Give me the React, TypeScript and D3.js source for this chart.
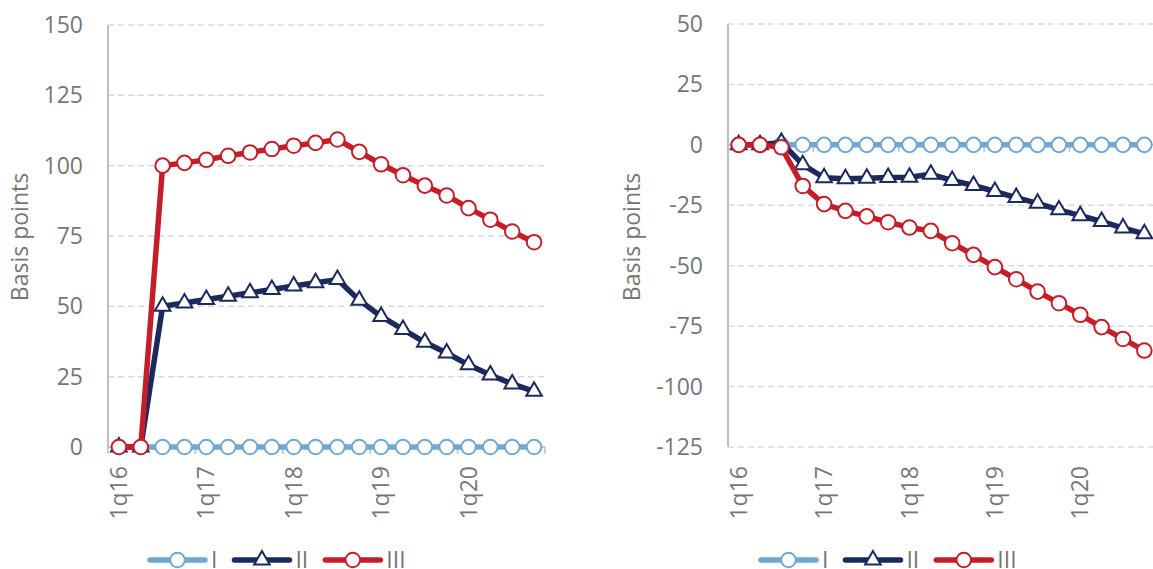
import React, { useRef, useEffect } from 'react';
import * as d3 from 'd3';

const quarters = [
  '1q16', '2q16', '3q16', '4q16',
  '1q17', '2q17', '3q17', '4q17',
  '1q18', '2q18', '3q18', '4q18',
  '1q19', '2q19', '3q19', '4q19',
  '1q20', '2q20', '3q20', '4q20',
];
const shownLabels = ['1q16', '1q17', '1q18', '1q19', '1q20'];

const seriesNames = ['I', 'II', 'III'];
const seriesColors = ['#6fa8d0', '#1b2a5c', '#c41e2a'];

// left panel
const leftI = [0, 0, 0, 0, 0, 0, 0, 0, 0, 0, 0, 0, 0, 0, 0, 0, 0, 0, 0, 0];
const leftII = [0, 0, 50, 51.2, 52.4, 53.6, 54.8, 56, 57.2, 58.4, 59.5, 52.2, 46.4, 41.8, 37.2, 33.4, 29.2, 25.6, 22.4, 19.8];
const leftIII = [0, 0, 100, 101, 102.1, 103.5, 104.7, 105.9, 107.1, 108.1, 109.3, 104.9, 100.5, 96.6, 92.9, 89.4, 84.9, 80.8, 76.6, 72.8];
const leftTicks = [0, 25, 50, 75, 100, 125, 150];

// right panel
const rightI = [0, 0, 0, 0, 0, 0, 0, 0, 0, 0, 0, 0, 0, 0, 0, 0, 0, 0, 0, 0];
const rightII = [0, 0, 1, -8.2, -13.6, -14, -13.8, -13.5, -13.4, -12.2, -14.7, -16.8, -19.3, -21.8, -24.2, -26.9, -29.3, -31.7, -34.4, -36.8];
const rightIII = [0, 0, -1, -17, -24.5, -27.3, -29.6, -32, -34.2, -35.6, -40.7, -45.5, -50.6, -55.6, -60.7, -65.5, -70.3, -75.4, -80.3, -85.1];
const rightTicks = [-125, -100, -75, -50, -25, 0, 25, 50];

const FONT = "'Open Sans', sans-serif";
const TEXT = '#767676';
const FS = 23;

type PanelOpts = {
  x0: number;
  x1: number;
  yTop: number;
  yBottom: number;
  domain: [number, number];
  ticks: number[];
  series: number[][];
  titleX: number;
  legendX: number;
};

function drawPanel(svg: d3.Selection<SVGSVGElement, unknown, null, undefined>, o: PanelOpts) {
  const g = svg.append('g');

  const x = d3.scaleBand<string>().domain(quarters).range([o.x0, o.x1]).paddingInner(0).paddingOuter(0);
  const y = d3.scaleLinear().domain(o.domain).range([o.yBottom, o.yTop]);
  const bw = x.bandwidth();
  const cx = (q: string) => (x(q) as number) + bw / 2;

  // gridlines
  g.selectAll('line.grid')
    .data(o.ticks)
    .enter()
    .append('line')
    .attr('x1', o.x0)
    .attr('x2', o.x1)
    .attr('y1', d => y(d))
    .attr('y2', d => y(d))
    .attr('stroke', '#d9d9d9')
    .attr('stroke-width', 1.5)
    .attr('stroke-dasharray', '6,4');

  // y tick labels
  g.selectAll('text.ytick')
    .data(o.ticks)
    .enter()
    .append('text')
    .attr('x', o.x0 - 25)
    .attr('y', d => y(d))
    .attr('dy', '0.35em')
    .attr('text-anchor', 'end')
    .style('font-family', FONT)
    .style('font-size', FS)
    .attr('fill', TEXT)
    .text(d => d);

  // y axis line
  g.append('line')
    .attr('x1', o.x0).attr('x2', o.x0)
    .attr('y1', o.yTop).attr('y2', o.yBottom)
    .attr('stroke', '#bfbfbf')
    .attr('stroke-width', 2);

  // category axis at zero + tick marks every 4 quarters
  const y0 = y(0);
  g.append('line')
    .attr('x1', o.x0).attr('x2', o.x1)
    .attr('y1', y0).attr('y2', y0)
    .attr('stroke', '#bfbfbf')
    .attr('stroke-width', 1.5);
  const bounds = d3.range(0, quarters.length + 1, 4);
  g.selectAll('line.xt')
    .data(bounds)
    .enter()
    .append('line')
    .attr('x1', d => o.x0 + d * bw)
    .attr('x2', d => o.x0 + d * bw)
    .attr('y1', y0)
    .attr('y2', y0 + 7)
    .attr('stroke', '#bfbfbf')
    .attr('stroke-width', 1.5);

  // x labels, rotated, at the bottom
  g.selectAll('text.xl')
    .data(shownLabels)
    .enter()
    .append('text')
    .attr('transform', d => `translate(${cx(d)},466) rotate(-90)`)
    .attr('dy', '0.35em')
    .attr('text-anchor', 'end')
    .style('font-family', FONT)
    .style('font-size', FS)
    .attr('fill', TEXT)
    .text(d => d);

  // axis title
  g.append('text')
    .attr('transform', `translate(${o.titleX},237) rotate(-90)`)
    .attr('dy', '0.35em')
    .attr('text-anchor', 'middle')
    .style('font-family', FONT)
    .style('font-size', FS)
    .attr('fill', TEXT)
    .text('Basis points');

  const line = d3.line<number>()
    .x((_, i) => cx(quarters[i]))
    .y(d => y(d));

  const tri = d3.symbol().type(d3.symbolTriangle).size(105);

  o.series.forEach((vals, si) => {
    const color = seriesColors[si];
    g.append('path')
      .attr('d', line(vals))
      .attr('fill', 'none')
      .attr('stroke', color)
      .attr('stroke-width', 5.5)
      .attr('stroke-linejoin', 'round');

    if (si === 1) {
      g.selectAll(null)
        .data(vals)
        .enter()
        .append('path')
        .attr('d', tri())
        .attr('transform', (d, i) => `translate(${cx(quarters[i])},${y(d)})`)
        .attr('fill', 'white')
        .attr('stroke', color)
        .attr('stroke-width', 2);
    } else {
      g.selectAll(null)
        .data(vals)
        .enter()
        .append('circle')
        .attr('cx', (_, i) => cx(quarters[i]))
        .attr('cy', d => y(d))
        .attr('r', 7.3)
        .attr('fill', 'white')
        .attr('stroke', color)
        .attr('stroke-width', 2);
    }
  });

  // legend
  let lx = o.legendX;
  const ly = 560;
  seriesNames.forEach((name, si) => {
    const color = seriesColors[si];
    g.append('line')
      .attr('x1', lx).attr('x2', lx + 55)
      .attr('y1', ly).attr('y2', ly)
      .attr('stroke', color)
      .attr('stroke-width', 5.5)
      .attr('stroke-linecap', 'round');
    if (si === 1) {
      g.append('path')
        .attr('d', tri())
        .attr('transform', `translate(${lx + 27.5},${ly})`)
        .attr('fill', 'white')
        .attr('stroke', color)
        .attr('stroke-width', 2);
    } else {
      g.append('circle')
        .attr('cx', lx + 27.5)
        .attr('cy', ly)
        .attr('r', 7.3)
        .attr('fill', 'white')
        .attr('stroke', color)
        .attr('stroke-width', 2);
    }
    const t = g.append('text')
      .attr('x', lx + 61)
      .attr('y', 568)
      .style('font-family', FONT)
      .style('font-size', FS)
      .attr('fill', TEXT)
      .text(name);
    const w = (t.node() as SVGTextElement).getComputedTextLength();
    lx = lx + 61 + w + 17;
  });
}

const App = () => {
  const ref = useRef<SVGSVGElement>(null);

  useEffect(() => {
    if (!ref.current) return;
    const svg = d3.select(ref.current);
    svg.selectAll('*').remove();

    drawPanel(svg, {
      x0: 108, x1: 545, yTop: 25, yBottom: 447,
      domain: [0, 150], ticks: leftTicks,
      series: [leftI, leftII, leftIII],
      titleX: 20, legendX: 150,
    });
    drawPanel(svg, {
      x0: 728, x1: 1155, yTop: 24, yBottom: 447,
      domain: [-125, 50], ticks: rightTicks,
      series: [rightI, rightII, rightIII],
      titleX: 632, legendX: 761,
    });
  }, []);

  return (
    <>
      <style>{'body{margin:0;overflow:hidden;background:#fff}'}</style>
      <svg ref={ref} width={1153} height={569} style={{ display: 'block' }} />
    </>
  );
};

export default App;
